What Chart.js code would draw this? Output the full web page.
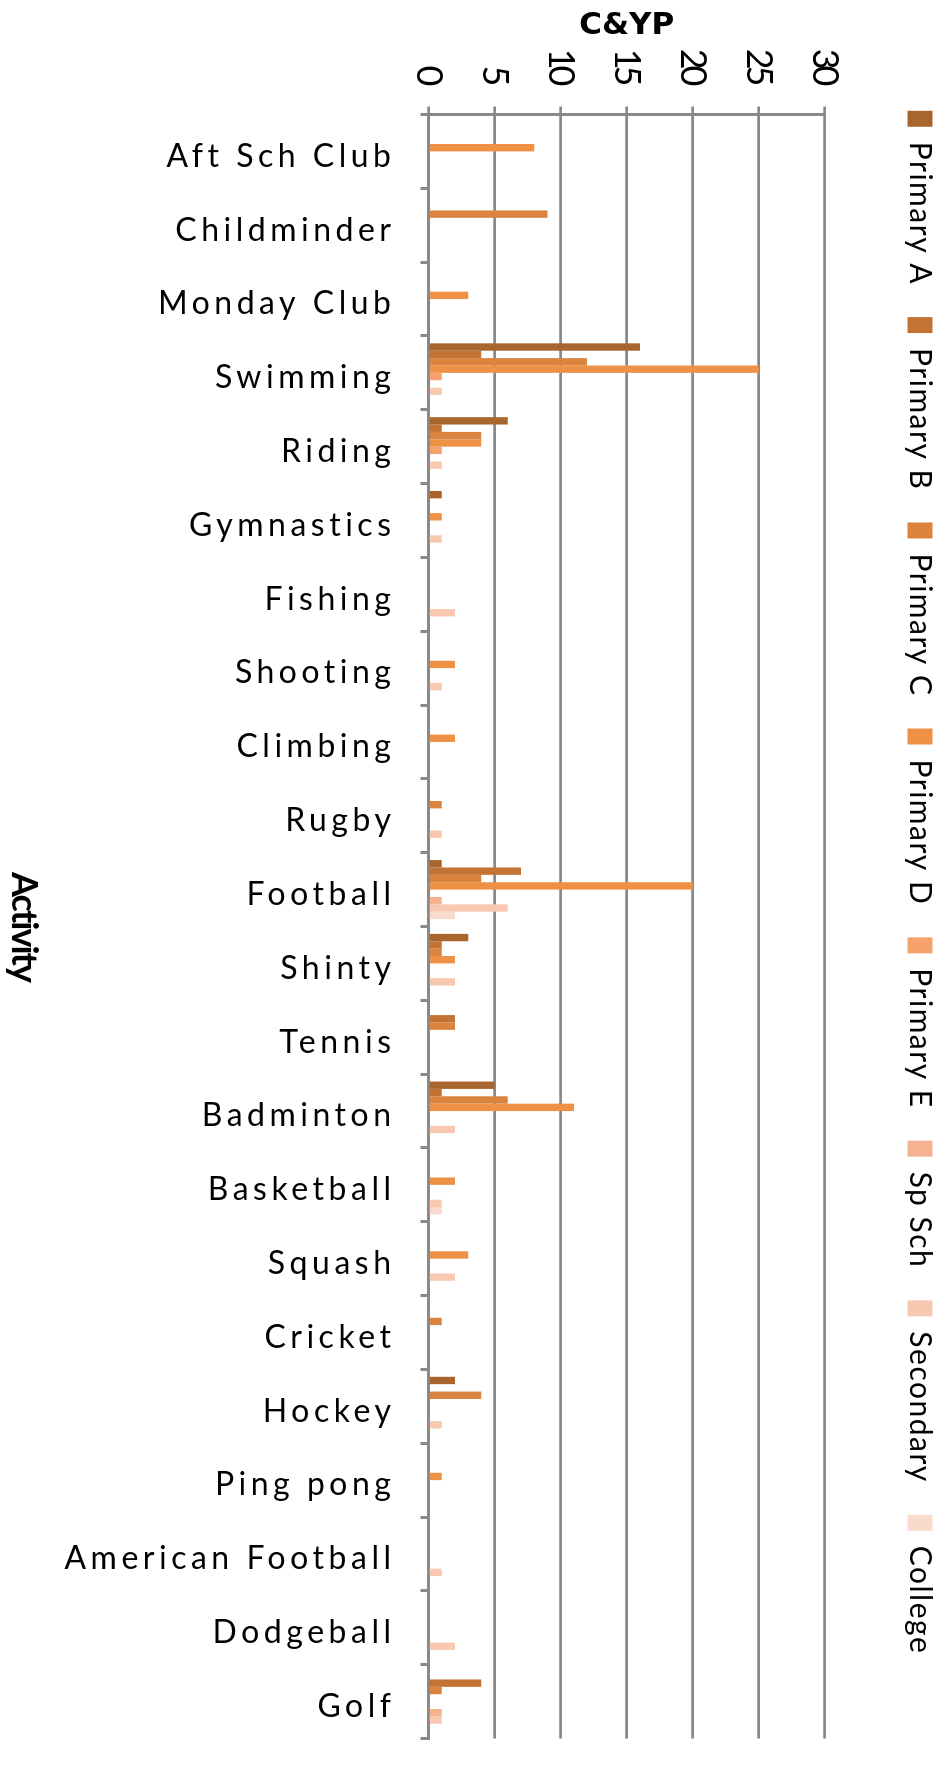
<!DOCTYPE html>
<html>
<head>
<meta charset="utf-8">
<script src="https://cdn.jsdelivr.net/npm/chart.js@4.4.1/dist/chart.umd.min.js"></script>
<style>
html,body{margin:0;padding:0;background:#fff;overflow:hidden;width:936px;height:1765px;}
#wrap{position:relative;width:936px;height:1765px;overflow:hidden;background:#fff;}
#c{position:absolute;left:0;top:0;width:1765px;height:936px;transform-origin:0 0;transform:translate(936px,0) rotate(90deg);}
</style>
</head>
<body>
<div id="wrap"><canvas id="c" width="1765" height="936"></canvas></div>
<script>
// ---- data ----
const categories = ["Aft Sch Club","Childminder","Monday Club","Swimming","Riding","Gymnastics","Fishing","Shooting","Climbing","Rugby","Football","Shinty","Tennis","Badminton","Basketball","Squash","Cricket","Hockey","Ping pong","American Football","Dodgeball","Golf"];
const seriesNames = ["Primary A","Primary B","Primary C","Primary D","Primary E","Sp Sch","Secondary","College"];
const primaryA  = [0,0,0,16,6,1,0,0,0,0,1,3,0,5,0,0,0,2,0,0,0,0];
const primaryB  = [0,0,0,4,1,0,0,0,0,0,7,1,2,1,0,0,0,0,0,0,0,4];
const primaryC  = [0,9,0,12,4,0,0,0,0,1,4,1,2,6,0,0,1,4,0,0,0,1];
const primaryD  = [8,0,3,25,4,1,0,2,2,0,20,2,0,11,2,3,0,0,1,0,0,0];
const primaryE  = [0,0,0,1,1,0,0,0,0,0,0,0,0,0,0,0,0,0,0,0,0,0];
const spSch     = [0,0,0,0,0,0,0,0,0,0,1,0,0,0,0,0,0,0,0,0,0,1];
const secondary = [0,0,0,1,1,1,2,1,0,1,6,2,0,2,1,2,0,1,0,1,2,1];
const college   = [0,0,0,0,0,0,0,0,0,0,2,0,0,0,1,0,0,0,0,0,0,0];
const valueTicks = [0,5,10,15,20,25,30];
const valueTickLabels = ["0","5","10","15","20","25","30"];
const valueAxisTitle = "C&YP";
const categoryAxisTitle = "Activity";

// ---- styles ----
const colors = ["#A9652E","#C37334","#DA843F","#EE9145","#F5A26C","#F5B290","#F9C8B0","#F9DBCD"];
const series = [primaryA,primaryB,primaryC,primaryD,primaryE,spSch,secondary,college];

const datasets = seriesNames.map((name,i)=>({
  label: name,
  data: series[i],
  backgroundColor: colors[i],
  borderWidth: 0,
  categoryPercentage: 0.8,
  barPercentage: 1.0
}));

function wrapSpacing(obj, fn, sp){
  const key='__sp_'+fn;
  if(!obj || obj[key]) return;
  const orig = obj[fn];
  obj[fn] = function(...a){
    const c=this.ctx; c.save(); c.letterSpacing=sp;
    const r=orig.apply(this,a); c.restore(); return r;
  };
  obj[key]=true;
}
const spacingPlugin = {
  id:'spacing',
  beforeUpdate(chart){
    wrapSpacing(chart.legend,'fit','1.5px');
    wrapSpacing(chart.legend,'draw','1.5px');
  },
  beforeDraw(chart){
    wrapSpacing(chart.scales.x,'drawLabels','4.5px');
    wrapSpacing(chart.scales.x,'drawTitle','-2px');
    wrapSpacing(chart.scales.y,'drawLabels','-4px');
  }
};
const bgPlugin = {
  id:'bg',
  beforeDraw(chart){
    const c=chart.ctx; c.save(); c.fillStyle='#fff'; c.fillRect(0,0,chart.width,chart.height); c.restore();
  }
};

Chart.defaults.font.family = 'Lato';
Chart.defaults.color = '#000';

new Chart(document.getElementById('c'), {
  type: 'bar',
  data: { labels: categories, datasets },
  plugins: [bgPlugin, spacingPlugin],
  options: {
    responsive: false,
    animation: false,
    devicePixelRatio: 1,
    layout: { padding: { top: -31, left: 0, right: 0, bottom: 0 } },
    plugins: {
      legend: {
        display: true, position: 'top', align: 'center',
        labels: { font: { family: 'Lato', size: 30 }, color: '#000', boxWidth: 16, boxHeight: 25, padding: 32 }
      },
      title: { display: true, text: '', position: 'top', weight: 500, font: { size: 10, lineHeight: 1 }, padding: { top: 30, bottom: 30 } },
      tooltip: { enabled: false }
    },
    scales: {
      x: {
        type: 'category', position: 'bottom',
        grid: { display: true, drawOnChartArea: false, drawTicks: true, tickLength: 8, color: '#898989', lineWidth: 3, offset: true },
        border: { display: true, color: '#898989', width: 3 },
        ticks: { autoSkip: false, minRotation: 90, maxRotation: 90, padding: 25, labelOffset: 5, color: '#000', font: { family: 'Lato', size: 32 } },
        title: { display: true, text: categoryAxisTitle, color: '#000', font: { family: 'Lato', size: 36, weight: 'bold' }, padding: { top: 0, bottom: 2.5 } },
        afterFit(s){ s.height = 428.5; }
      },
      y: {
        min: valueTicks[0], max: valueTicks[valueTicks.length-1],
        afterBuildTicks(s){ s.ticks = valueTicks.map(v=>({value:v})); },
        ticks: { padding: 24, color: '#000', font: { family: 'Lato', size: 36 },
                 callback: (v)=> valueTickLabels[valueTicks.indexOf(v)] },
        grid: { color: '#898989', lineWidth: 2.7, tickLength: 8, drawTicks: true },
        border: { display: true, color: '#898989', width: 3 },
        title: { display: true, text: valueAxisTitle, color: '#000', font: { family: 'DejaVu Sans', size: 31, weight: 'bold' }, padding: { top: 7, bottom: 0 } },
        afterFit(s){ s.width = 114.5; }
      }
    }
  }
});
</script>
</body>
</html>
